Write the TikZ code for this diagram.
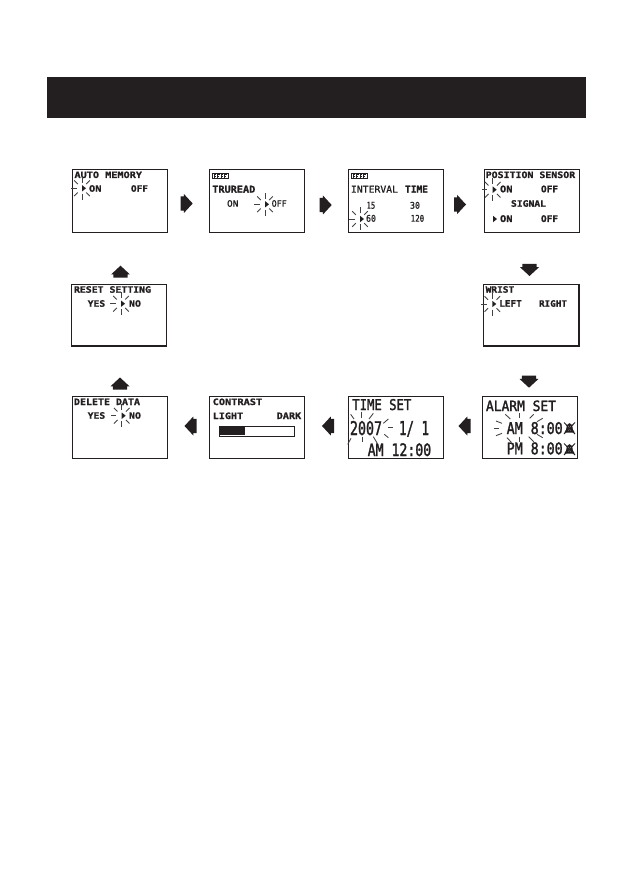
\documentclass[tikz,border=0pt]{standalone}
\usepackage{fontspec}
\usepackage{graphicx}
\setmainfont{DejaVu Sans Mono}
\newfontfamily\lcdheavy[BoldFeatures={FakeBold=1.2}]{DejaVu Sans Mono}
\newfontfamily\lcdbig[FakeBold=2]{DejaVu Sans Mono}
\newfontfamily\lcdmid[FakeBold=1]{DejaVu Sans Mono}
\definecolor{ink}{HTML}{231F20}
\newdimen\pxu \pxu=0.75pt
\tikzset{
  screenbox/.style={draw=ink,line width=0.9pt,fill=white,minimum width=95.4*0.75pt,inner sep=0pt},
  lcdtext/.style={anchor=base west,inner sep=0pt,outer sep=0pt,text=ink},
  rayline/.style={draw=ink!85,line width=0.65pt},
}
% name, x, baseline y, ink width, cap height, text
\newcommand{\lab}[6]{\node[lcdtext] (#1) at (#2,#3) {\resizebox{#4\pxu}{#5\pxu}{\lcdheavy\bfseries #6}};}
\newcommand{\labr}[6]{\node[lcdtext] (#1) at (#2,#3) {\resizebox{#4\pxu}{#5\pxu}{\lcdmid #6}};}
\newcommand{\labb}[6]{\node[lcdtext] (#1) at (#2,#3) {\resizebox{#4\pxu}{#5\pxu}{\lcdbig #6}};}
\newcommand{\screen}[4]{\node[screenbox,minimum height=#4*0.75pt] (#1) at (#2,#3) {};}
\newcommand{\blockarrow}[3]{\fill[ink,shift={(#1,#2)},rotate=#3] (-6,-7.2)--(-2.8,-7.2)--(-2.8,-9.5)--(6,0)--(-2.8,9.5)--(-2.8,7.2)--(-6,7.2)--cycle;}
\newcommand{\spark}[2]{%
  \begin{scope}[shift={(#1,#2)}]
    \foreach \a/\i/\o in {90/5.5/11.5,270/5.5/11.5,180/5.5/11,45/6/11,135/6/11,225/6/11,315/6/11}
      \draw[rayline] (\a:\i) -- (\a:\o);
    \fill[ink] (0,-3.2)--(4,0)--(0,3.2)--cycle;
  \end{scope}}
\newcommand{\pointer}[2]{\fill[ink] (#1,#2-3.2)--(#1+4,#2)--(#1,#2+3.2)--cycle;}
\newcommand{\pppicon}[2]{%
  \begin{scope}[shift={(#1,#2)}]
    \draw[ink,line width=0.5pt] (0,0) rectangle (16,5.6);
    \foreach \q in {2,5.5,9,12.5}{
      \draw[ink,line width=0.5pt] (\q,4.8)--(\q,1)--(\q+2,1) (\q,3)--(\q+1.6,3);}
  \end{scope}}
\newcommand{\bellx}[2]{%
  \begin{scope}[shift={(#1,#2)}]
    \fill[ink] (0.8,11)--(2.6,8)--(3.4,3.6)--(6,1.6)--(8.6,3.6)--(9.4,8)--(11.2,11)--cycle;
    \draw[white,line width=0.35pt] (4.5,4.5)--(7.5,9) (7.5,4.5)--(4.5,9);
    \draw[ink,line width=0.7pt] (0.5,1)--(11.5,12.5) (11.5,1)--(0.5,12.5);
  \end{scope}}
\begin{document}
\begin{tikzpicture}[x=0.75pt,y=-0.75pt]
\useasboundingbox (0,0) rectangle (636,880);
\fill[ink] (47,77) rectangle (586,118);

% screens
\screen{s1}{120}{201}{63.4}
\screen{s2}{256.8}{201}{63.4}
\screen{s3}{396}{201}{63.4}
\screen{s4}{532}{201}{63.4}
\screen{s5}{119}{315.2}{61.7}
\screen{s6}{531.2}{315.2}{61.7}
\screen{s7}{120}{427.3}{62}
\screen{s8}{256.8}{427.3}{62}
\screen{s9}{396}{427.3}{62}
\screen{s10}{530}{427.3}{62}

% block arrows
\blockarrow{186.7}{203.5}{0}
\blockarrow{325.7}{205}{0}
\blockarrow{460}{204.5}{0}
\blockarrow{529.5}{270}{-90}
\blockarrow{529}{381.7}{-90}
\blockarrow{464.5}{426}{180}
\blockarrow{328}{426}{180}
\blockarrow{190.5}{426}{180}
\blockarrow{120}{383.5}{90}
\blockarrow{120.5}{271.7}{90}

% AUTO MEMORY
\lab{t1a}{74.5}{178}{67.5}{6.5}{AUTO MEMORY}
\spark{82}{188.3}
\lab{t1b}{89}{191.7}{12.5}{6.5}{ON}
\lab{t1c}{131}{191.7}{17}{6.5}{OFF}

% TRUREAD
\pppicon{212.3}{173.2}
\lab{t2a}{212.3}{192.7}{43}{7}{TRUREAD}
\labr{t2b}{227}{206.7}{11.5}{6.5}{ON}
\spark{265}{204.3}
\labr{t2c}{271.7}{206.7}{15}{6.5}{OFF}

% INTERVAL TIME
\pppicon{351}{173.2}
\labr{t3a}{351}{192.7}{47}{7}{INTERVAL}
\lab{t3b}{405}{192.7}{23}{7}{TIME}
\labr{t3c}{366.7}{208.7}{8.5}{6.8}{15}
\labr{t3d}{410}{208.7}{10}{6.8}{30}
\spark{360}{219}
\labr{t3e}{366}{221.7}{10}{6.8}{60}
\labr{t3f}{410.7}{221.7}{13.5}{6.8}{120}

% POSITION SENSOR
\lab{t4a}{485.7}{178}{89.5}{6.5}{POSITION SENSOR}
\spark{492.7}{189.7}
\lab{t4b}{500}{192.3}{12.5}{6.8}{ON}
\lab{t4c}{541}{192.3}{17}{6.8}{OFF}
\lab{t4d}{511}{206.7}{35}{6.5}{SIGNAL}
\pointer{493}{219}
\lab{t4e}{500}{222}{12.5}{6.8}{ON}
\lab{t4f}{541}{222}{17}{6.8}{OFF}

% RESET SETTING
\lab{t5a}{74}{292.7}{77}{6.5}{RESET SETTING}
\lab{t5b}{87.7}{306.7}{17.5}{6.5}{YES}
\spark{121}{303.7}
\lab{t5c}{129}{306.7}{12}{6.5}{NO}

% WRIST
\lab{t6a}{485.7}{292.7}{28.5}{6.5}{WRIST}
\spark{492.3}{304}
\lab{t6b}{499.3}{306.7}{22.5}{6.5}{LEFT}
\lab{t6c}{539}{306.7}{28}{6.5}{RIGHT}

% DELETE DATA
\lab{t7a}{74}{405}{66}{6.5}{DELETE DATA}
\lab{t7b}{87.7}{418.7}{17.5}{6.5}{YES}
\spark{121.7}{415.7}
\lab{t7c}{129}{418.7}{12}{6.5}{NO}

% CONTRAST
\lab{t8a}{212.7}{405}{49.5}{6.5}{CONTRAST}
\lab{t8b}{212.7}{419}{30.5}{6.5}{LIGHT}
\lab{t8c}{276.7}{419}{24.5}{6.5}{DARK}
\draw[ink,line width=0.8pt] (219.3,426.3) rectangle (294.7,436.7);
\fill[ink] (219.3,426.3) rectangle (245,434.8);

% TIME SET
\labb{t9a}{352.3}{410}{59}{11}{TIME SET}
\labb{t9b}{350}{435}{32}{14}{2007}
\labb{t9c}{399}{435}{30}{14}{1/ 1}
\labb{t9d}{367.7}{456}{63.5}{12.7}{AM 12:00}
\foreach \xa/\ya/\xb/\yb in {17/58/27/72,50/50/50/68,85/55/72/72,130/97/145/97,115/85/130/72,118/118/130/128,52/125/52/142,18/130/8/148,85/125/97/145}
  \draw[rayline] (345+\xa/3,395+\ya/3) -- (345+\xb/3,395+\yb/3);

% ALARM SET
\labb{t10a}{486}{411}{70}{10.5}{ALARM SET}
\labb{t10b}{506.7}{434}{56}{12}{AM 8:00}
\labb{t10c}{506.7}{454.3}{56}{12}{PM 8:00}
\bellx{563.5}{421.5}
\bellx{563.5}{442.5}
\foreach \xa/\ya/\xb/\yb in {35/100/50/100,42/78/60/85,42/122/60/115,70/58/85/72,112/55/112/70,155/58/143/70,165/80/182/70,165/118/182/128,112/125/112/142,75/128/88/142,140/125/155/140}
  \draw[rayline] (482+\xa/3,395+\ya/3) -- (482+\xb/3,395+\yb/3);
\end{tikzpicture}
\end{document}
